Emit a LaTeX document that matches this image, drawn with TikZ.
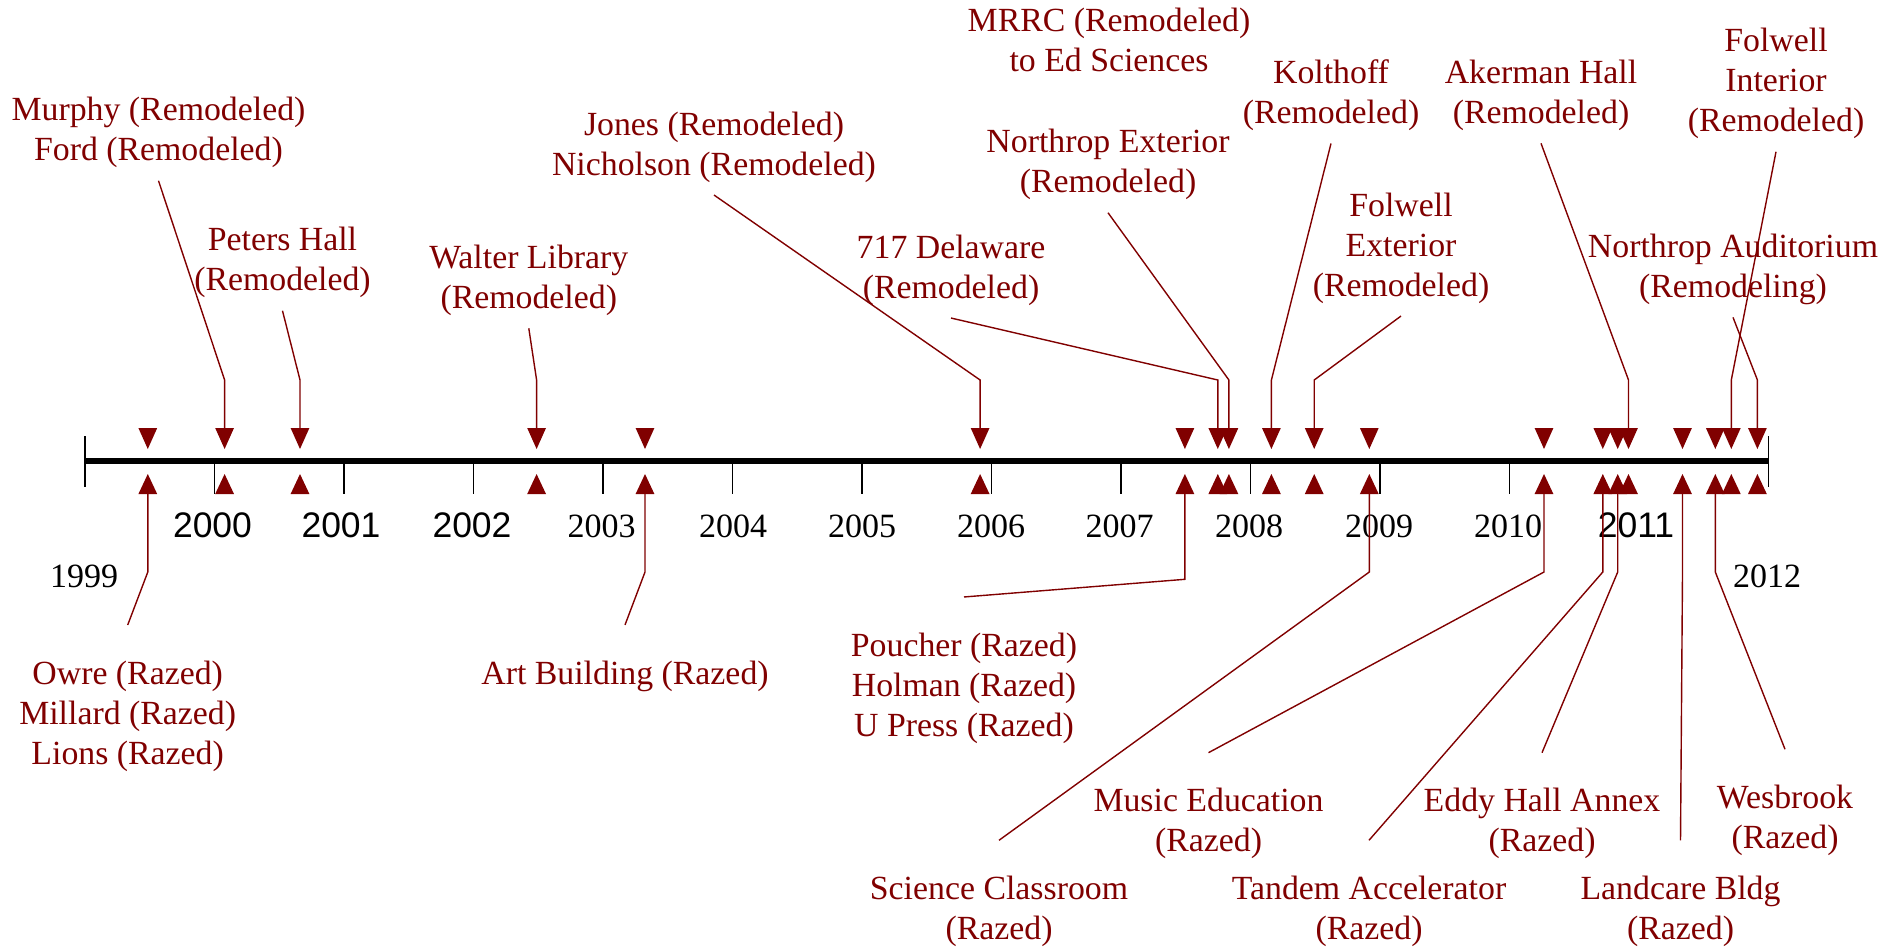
\documentclass[tikz,border=0pt]{standalone}
\usepackage{fontspec}
\setmainfont{Liberation Serif}
\newfontfamily\sansyr{Liberation Sans}
\definecolor{ev}{RGB}{128,0,0}
\begin{document}
\begin{tikzpicture}[x=1pt,y=-1pt,
  lbl/.style={text=ev, align=center, font=\fontsize{33.8}{40}\selectfont, inner xsep=2pt},
  toplbl/.style={lbl, inner ysep=12.5pt},
  botlbl/.style={lbl, inner ysep=35.5pt},
  conn/.style={draw=ev, line width=1.4pt},
  yr/.style={font=\fontsize{34}{40}\selectfont, anchor=base, inner sep=0pt},
  yrs/.style={font=\sansyr\fontsize{35.5}{40}\selectfont, anchor=base, inner sep=0pt},
  tickline/.style={line width=1.6pt},
  tri/.style={fill=ev},
]
\useasboundingbox (0,0) rectangle (1884,948);

% axis
\coordinate (axL) at (84.8,461);
\coordinate (axR) at (1768.5,461);
\draw[line width=5.3pt] (axL) -- (axR);
\draw[tickline] (84.8,436) -- (84.8,487);
\draw[tickline] (1768.5,436) -- (1768.5,487);
\foreach \k in {1,...,11} {
  \draw[tickline] (84.8+129.5*\k,461) -- (84.8+129.5*\k,494);
}

% year labels
\node[yr]  (y1999) at (84,587)    {1999};
\node[yrs] (y2000) at (212.5,537) {2000};
\node[yrs] (y2001) at (341,537)   {2001};
\node[yrs] (y2002) at (472,537)   {2002};
\node[yr]  (y2003) at (601.5,537) {2003};
\node[yr]  (y2004) at (733,537)   {2004};
\node[yr]  (y2005) at (862,537)   {2005};
\node[yr]  (y2006) at (991,537)   {2006};
\node[yr]  (y2007) at (1119.5,537){2007};
\node[yr]  (y2008) at (1249,537)  {2008};
\node[yr]  (y2009) at (1379,537)  {2009};
\node[yr]  (y2010) at (1508,537)  {2010};
\node[yrs] (y2011) at (1636,537)  {2011};
\node[yr]  (y2012) at (1767,587)  {2012};

% event markers
\foreach \n/\x in {1/147.8, 2/224.6, 3/300, 4/536.6, 5/645, 6/980.1, 7/1184.9,
  8/1217.8, 9/1228.9, 10/1271.4, 11/1314.2, 12/1369.3, 13/1544, 14/1602.8,
  15/1617.7, 16/1628.5, 17/1682.5, 18/1715.3, 19/1731.3, 20/1757.4} {
  \coordinate (u\n) at (\x,428);
  \coordinate (b\n) at (\x,494);
  \fill[tri] (\x-9.4,428) -- (\x+9.4,428) -- (\x,449) -- cycle;
  \fill[tri] (\x-9.4,494) -- (\x+9.4,494) -- (\x,474) -- cycle;
}
\coordinate (tb) at (0,380);
\coordinate (bb) at (0,572);
\coordinate (bb7) at (0,579.3);

% labels above
\node[toplbl] (murphy) at (158.5,132.7) {Murphy (Remodeled)\\Ford (Remodeled)};
\node[toplbl] (peters) at (282.5,262.7) {Peters Hall\\(Remodeled)};
\node[toplbl] (walter) at (528.8,280.3) {Walter Library\\(Remodeled)};
\node[toplbl] (jones) at (714,147) {Jones (Remodeled)\\Nicholson (Remodeled)};
\node[toplbl] (delaware) at (951,270) {717 Delaware\\(Remodeled)};
\node[toplbl] (mrrc) at (1109,40) {MRRC (Remodeled)\\to Ed Sciences};
\node[toplbl] (nexterior) at (1108,164.7) {Northrop Exterior\\(Remodeled)};
\node[toplbl] (kolthoff) at (1331,95.3) {Kolthoff\\(Remodeled)};
\node[toplbl] (akerman) at (1541,95.3) {Akerman Hall\\(Remodeled)};
\node[toplbl] (finterior) at (1776,83.7) {Folwell\\Interior\\(Remodeled)};
\node[toplbl] (fexterior) at (1401,248) {Folwell\\Exterior\\(Remodeled)};
\node[toplbl] (nauditorium) at (1733,269.3) {Northrop Auditorium\\(Remodeling)};

% labels below
\node[botlbl] (owre) at (127.7,716) {Owre (Razed)\\Millard (Razed)\\Lions (Razed)};
\node[botlbl] (art) at (625,676) {Art Building (Razed)};
\node[botlbl] (poucher) at (964,688) {Poucher (Razed)\\Holman (Razed)\\U Press (Razed)};
\node[botlbl] (music) at (1208.5,823.7) {Music Education\\(Razed)};
\node[botlbl] (eddy) at (1542,823.7) {Eddy Hall Annex\\(Razed)};
\node[botlbl] (wesbrook) at (1785,820.3) {Wesbrook\\(Razed)};
\node[botlbl] (science) at (999,911.3) {Science Classroom\\(Razed)};
\node[botlbl] (tandem) at (1369,911.3) {Tandem Accelerator\\(Razed)};
\node[botlbl] (landcare) at (1680.5,911.3) {Landcare Bldg\\(Razed)};

% connectors above
\foreach \l/\n in {murphy/2, peters/3, walter/4, jones/6, delaware/8, nexterior/9,
  kolthoff/10, fexterior/11, akerman/16, finterior/19, nauditorium/20} {
  \draw[conn] (\l.south) -- (u\n |- tb) -- (u\n);
}
% connectors below
\foreach \l/\n in {owre/1, art/5, science/12, music/13, tandem/14, eddy/15,
  landcare/17, wesbrook/18} {
  \draw[conn] (b\n) -- (b\n |- bb) -- (\l.north);
}
\draw[conn] (b7) -- (b7 |- bb7) -- (poucher.north);
\end{tikzpicture}
\end{document}
